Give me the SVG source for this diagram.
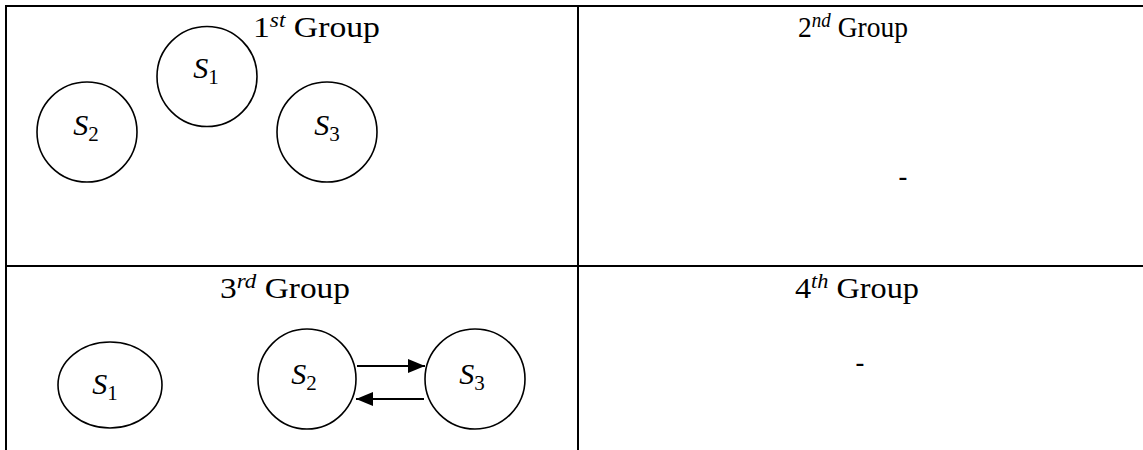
<svg xmlns="http://www.w3.org/2000/svg" width="1143" height="450" viewBox="0 0 1143 450">
  <style>
    .grid { stroke: #000; stroke-width: 2; fill: none; }
    .node { fill: #fff; stroke: #000; stroke-width: 1.6; }
    .title { font-family: "Liberation Serif", "Times New Roman", serif; font-size: 29px; fill: #000; }
    .sup { font-style: italic; font-size: 20px; }
    .lbl { font-family: "Liberation Serif", "Times New Roman", serif; font-size: 30px; fill: #000; text-anchor: middle; }
    .var { font-style: italic; }
    .sub { font-size: 21px; }
    .dash { font-family: "Liberation Sans", Arial, sans-serif; font-size: 28px; fill: #000; text-anchor: middle; }
    .edge { stroke: #000; stroke-width: 2; fill: none; }
  </style>
  <defs>
    <marker id="arrowhead" markerUnits="userSpaceOnUse" markerWidth="17" markerHeight="14" refX="17" refY="7" orient="auto">
      <path d="M0,0 L17,7 L0,14 Z" fill="#000"/>
    </marker>
  </defs>

  <rect width="1143" height="450" fill="#fff"/>

  <!-- table grid -->
  <g id="table">
    <line class="grid" x1="5" y1="6" x2="1143" y2="6"/>
    <line class="grid" x1="6" y1="5" x2="6" y2="450"/>
    <line class="grid" x1="578" y1="6" x2="578" y2="450"/>
    <line class="grid" x1="5" y1="266" x2="1143" y2="266"/>
  </g>

  <!-- cell headings -->
  <g id="headings">
    <text class="title" x="253" y="37" textLength="127" lengthAdjust="spacingAndGlyphs">1<tspan class="sup" dy="-10">st</tspan><tspan dy="10"> Group</tspan></text>
    <text class="title" x="798" y="37" textLength="110" lengthAdjust="spacingAndGlyphs">2<tspan class="sup" dy="-10">nd</tspan><tspan dy="10"> Group</tspan></text>
    <text class="title" x="220" y="298" textLength="130" lengthAdjust="spacingAndGlyphs">3<tspan class="sup" dy="-10">rd</tspan><tspan dy="10"> Group</tspan></text>
    <text class="title" x="795" y="298" textLength="124" lengthAdjust="spacingAndGlyphs">4<tspan class="sup" dy="-10">th</tspan><tspan dy="10"> Group</tspan></text>
    <text class="dash" x="903" y="186">-</text>
    <text class="dash" x="860" y="372">-</text>
  </g>

  <!-- group 1 states -->
  <g id="g1-s1">
    <circle class="node" cx="207" cy="76.5" r="50"/>
    <text class="lbl" x="206" y="78"><tspan class="var">S</tspan><tspan class="sub" dy="6">1</tspan></text>
  </g>
  <g id="g1-s2">
    <circle class="node" cx="87" cy="132" r="50"/>
    <text class="lbl" x="86" y="135"><tspan class="var">S</tspan><tspan class="sub" dy="6">2</tspan></text>
  </g>
  <g id="g1-s3">
    <circle class="node" cx="327" cy="132" r="50"/>
    <text class="lbl" x="327" y="135"><tspan class="var">S</tspan><tspan class="sub" dy="6">3</tspan></text>
  </g>

  <!-- group 3 states -->
  <g id="g3-s1">
    <ellipse class="node" cx="110" cy="385" rx="52" ry="43"/>
    <text class="lbl" x="105" y="394"><tspan class="var">S</tspan><tspan class="sub" dy="6">1</tspan></text>
  </g>
  <g id="g3-s2">
    <ellipse class="node" cx="307" cy="379" rx="49" ry="50"/>
    <text class="lbl" x="304" y="384"><tspan class="var">S</tspan><tspan class="sub" dy="6">2</tspan></text>
  </g>
  <g id="g3-s3">
    <ellipse class="node" cx="475" cy="379" rx="50" ry="50"/>
    <text class="lbl" x="472" y="384"><tspan class="var">S</tspan><tspan class="sub" dy="6">3</tspan></text>
  </g>

  <!-- transitions between S2 and S3 -->
  <g id="connectors">
    <line class="edge" x1="357" y1="366" x2="425" y2="366" marker-end="url(#arrowhead)"/>
    <line class="edge" x1="424" y1="399" x2="356" y2="399" marker-end="url(#arrowhead)"/>
  </g>
</svg>
